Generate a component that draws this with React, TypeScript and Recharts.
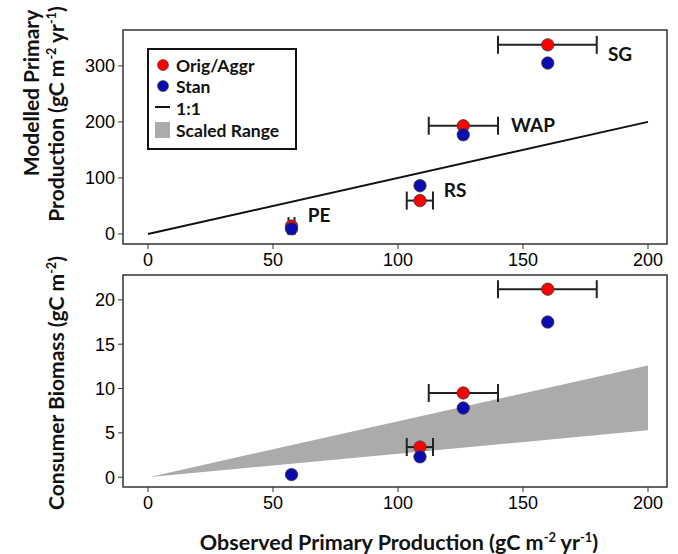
import React from 'react';
import {
  ComposedChart,
  Scatter,
  Line,
  Area,
  XAxis,
  YAxis,
  ErrorBar,
  ReferenceArea,
  Legend,
} from 'recharts';

// sites, in order of observed production
const sites = ['PE', 'RS', 'WAP', 'SG'];
const observedPP = [57.4, 108.8, 126.1, 159.9];
const observedLow = [56.2, 103.5, 112.3, 140];
const observedHigh = [58.6, 114, 140, 179.5];

const modelledOrig = [14, 59.5, 193, 337.5];
const modelledStan = [9, 86, 177, 305];
// no aggregated biomass point shows for PE
const biomassOrig = [null, 3.4, 9.5, 21.2];
const biomassStan = [0.3, 2.3, 7.8, 17.5];

// where the site names sit in the top panel
const siteLabelX = [68.4, 122.8, 154, 188.8];
const siteLabelY = [34, 78.5, 196, 322];

const oneToOneX = [0, 200];
const scaledX = [2, 200];
const scaledLow = [0.053, 5.3];
const scaledHigh = [0.126, 12.6];

const xTicks = [0, 50, 100, 150, 200];
const ppTicks = [0, 100, 200, 300];
const biomassTicks = [0, 5, 10, 15, 20];

const legendLabels = ['Orig/Aggr', 'Stan', '1:1', 'Scaled Range'];

const xDomain = [-10, 207.6];
const ppDomain = [-18, 364];
const biomassDomain = [-1.1, 22.8];

const RED = '#ff0000';
const BLUE = '#0b0bb0';
const GREY = '#ababab';
const INK = '#111';

const labelFont = 'Lato, "Open Sans", sans-serif';
const tickFont = '"Liberation Sans", Arial, sans-serif';

const withErr = (ys: (number | null)[]) =>
  sites
    .map((name, i) => ({
      name,
      x: observedPP[i],
      y: ys[i],
      xErr: [observedPP[i] - observedLow[i], observedHigh[i] - observedPP[i]],
    }))
    .filter((d) => d.y != null);

const ppOrigData = withErr(modelledOrig);
const ppStanData = sites.map((name, i) => ({ name, x: observedPP[i], y: modelledStan[i] }));
const bioOrigData = withErr(biomassOrig);
const bioStanData = sites.map((name, i) => ({ name, x: observedPP[i], y: biomassStan[i] }));
const siteLabelData = sites.map((name, i) => ({ name, x: siteLabelX[i], y: siteLabelY[i] }));
const oneToOneData = oneToOneX.map((v) => ({ x: v, y: v }));
const scaledData = scaledX.map((v, i) => ({ x: v, range: [scaledLow[i], scaledHigh[i]] }));

const dot = (fill: string) => (props: any) => (
  <circle cx={props.cx} cy={props.cy} r={6.2} fill={fill} stroke="#3a3a3a" strokeWidth={0.8} />
);

const siteText = (props: any) => (
  <text
    x={props.cx}
    y={props.cy}
    textAnchor="middle"
    dominantBaseline="central"
    fontFamily={labelFont}
    fontWeight={700}
    fontSize={19}
    fill={INK}
  >
    {props.payload.name}
  </text>
);

const LegendBox = () => {
  const rows = [17, 38, 60, 82];
  return (
    <svg width={150} height={102}>
      <rect x={1} y={1} width={148} height={100} fill="#fff" stroke={INK} strokeWidth={2} />
      <circle cx={16} cy={rows[0]} r={5.5} fill={RED} stroke="#3a3a3a" strokeWidth={0.6} />
      <circle cx={16} cy={rows[1]} r={5.5} fill={BLUE} stroke="#3a3a3a" strokeWidth={0.6} />
      <line x1={8} x2={23} y1={rows[2] - 1} y2={rows[2] - 1} stroke={INK} strokeWidth={2} />
      <rect x={8} y={rows[3] - 8} width={15} height={16} fill={GREY} />
      {legendLabels.map((l, i) => (
        <text
          key={l}
          x={29}
          y={rows[i]}
          dominantBaseline="central"
          fontFamily={labelFont}
          fontWeight={700}
          fontSize={17.5}
          fill={INK}
        >
          {l}
        </text>
      ))}
    </svg>
  );
};

const tickStyle = { fontSize: 18, fill: '#000', fontFamily: tickFont };

const rotated = (left: number, top: number): React.CSSProperties => ({
  position: 'absolute',
  left,
  top,
  transform: 'translate(-50%, -50%) rotate(-90deg)',
  whiteSpace: 'nowrap',
  fontFamily: labelFont,
  fontWeight: 700,
  fontSize: 21,
  color: INK,
  lineHeight: 1,
});

const sup: React.CSSProperties = { fontSize: '0.6em', verticalAlign: 'super', lineHeight: 0 };

export default function App() {
  return (
    <div style={{ position: 'absolute', left: 0, top: 0, width: 678, height: 554, background: '#fff' }}>
      <div style={rotated(30, 93)}>Modelled Primary</div>
      <div style={rotated(55, 114)}>
        Production (gC m<span style={sup}>-2</span> yr<span style={sup}>-1</span>)
      </div>
      <div style={rotated(55, 383)}>
        Consumer Biomass (gC m<span style={sup}>-2</span>)
      </div>
      <div
        style={{
          position: 'absolute',
          left: 399,
          top: 543,
          transform: 'translate(-50%, -50%)',
          whiteSpace: 'nowrap',
          fontFamily: labelFont,
          fontWeight: 700,
          fontSize: 21.5,
          color: INK,
          lineHeight: 1,
        }}
      >
        Observed Primary Production (gC m<span style={sup}>-2</span> yr<span style={sup}>-1</span>)
      </div>

      <div style={{ position: 'absolute', left: 0, top: 0 }}>
        <ComposedChart width={678} height={270} margin={{ top: 30, right: 11, bottom: 0, left: 0 }}>
          <XAxis
            type="number"
            dataKey="x"
            domain={xDomain}
            allowDataOverflow
            ticks={xTicks}
            interval={0}
            tick={tickStyle}
            tickSize={5}
            tickMargin={4}
            axisLine={false}
            tickLine={{ stroke: '#333' }}
            height={26}
          />
          <YAxis
            type="number"
            dataKey="y"
            domain={ppDomain}
            allowDataOverflow
            ticks={ppTicks}
            interval={0}
            tick={tickStyle}
            tickSize={5}
            tickMargin={3}
            axisLine={false}
            tickLine={{ stroke: '#333' }}
            width={123}
          />
          <Line
            data={oneToOneData}
            dataKey="y"
            type="linear"
            stroke={INK}
            strokeWidth={2}
            dot={false}
            isAnimationActive={false}
          />
          <Scatter data={ppOrigData} dataKey="y" shape={dot(RED)} isAnimationActive={false}>
            <ErrorBar dataKey="xErr" direction="x" width={9} stroke="#222" strokeWidth={2} isAnimationActive={false} />
          </Scatter>
          <Scatter data={ppStanData} dataKey="y" shape={dot(BLUE)} isAnimationActive={false} />
          <Scatter data={siteLabelData} dataKey="y" shape={siteText} isAnimationActive={false} />
          <ReferenceArea
            x1={xDomain[0]}
            x2={xDomain[1]}
            y1={ppDomain[0]}
            y2={ppDomain[1]}
            fill="none"
            stroke="#333"
            strokeWidth={1.5}
            ifOverflow="visible"
          />
          <Legend
            layout="vertical"
            align="center"
            verticalAlign="middle"
            content={<LegendBox />}
            wrapperStyle={{ left: 147, top: 48, width: 150, height: 102 }}
          />
        </ComposedChart>
      </div>

      <div style={{ position: 'absolute', left: 0, top: 270 }}>
        <ComposedChart width={678} height={284} margin={{ top: 5, right: 11, bottom: 37, left: 0 }}>
          <XAxis
            type="number"
            dataKey="x"
            domain={xDomain}
            allowDataOverflow
            ticks={xTicks}
            interval={0}
            tick={tickStyle}
            tickSize={5}
            tickMargin={4}
            axisLine={false}
            tickLine={{ stroke: '#333' }}
            height={30}
          />
          <YAxis
            type="number"
            dataKey="y"
            domain={biomassDomain}
            allowDataOverflow
            ticks={biomassTicks}
            interval={0}
            tick={tickStyle}
            tickSize={5}
            tickMargin={3}
            axisLine={false}
            tickLine={{ stroke: '#333' }}
            width={123}
          />
          <Area
            data={scaledData}
            dataKey="range"
            type="linear"
            fill={GREY}
            fillOpacity={1}
            stroke="none"
            isAnimationActive={false}
          />
          <Scatter data={bioOrigData} dataKey="y" shape={dot(RED)} isAnimationActive={false}>
            <ErrorBar dataKey="xErr" direction="x" width={9} stroke="#222" strokeWidth={2} isAnimationActive={false} />
          </Scatter>
          <Scatter data={bioStanData} dataKey="y" shape={dot(BLUE)} isAnimationActive={false} />
          <ReferenceArea
            x1={xDomain[0]}
            x2={xDomain[1]}
            y1={biomassDomain[0]}
            y2={biomassDomain[1]}
            fill="none"
            stroke="#333"
            strokeWidth={1.5}
            ifOverflow="visible"
          />
        </ComposedChart>
      </div>
    </div>
  );
}
